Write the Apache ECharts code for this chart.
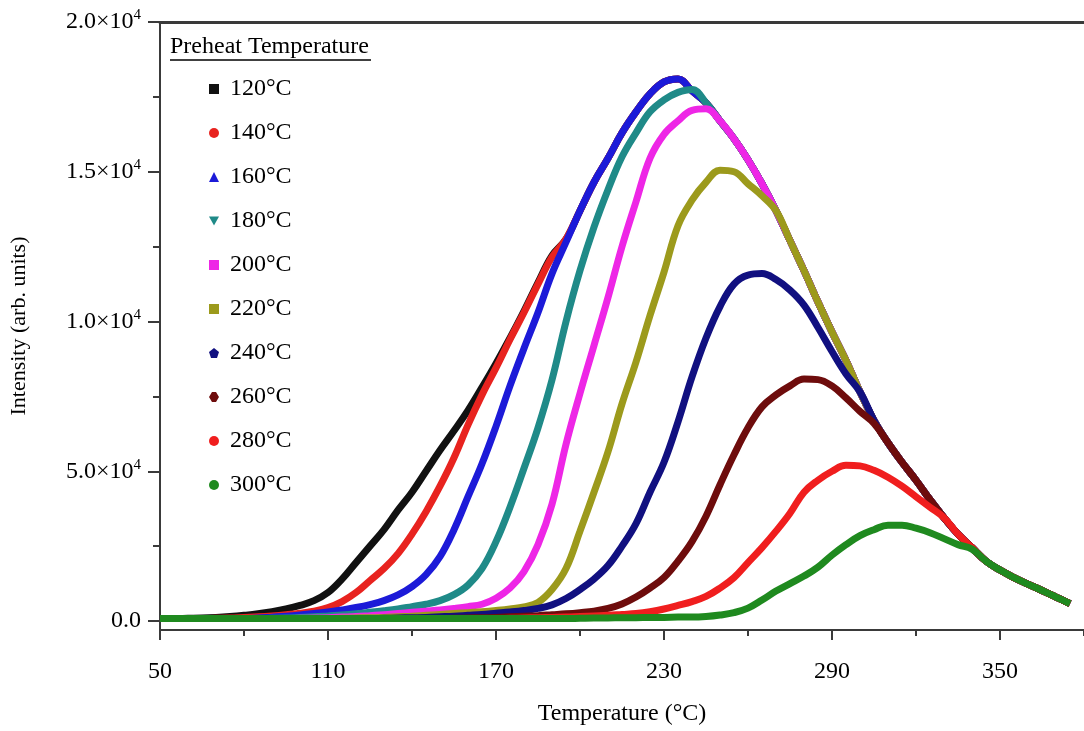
<!DOCTYPE html>
<html>
<head>
<meta charset="utf-8">
<script src="https://cdn.jsdelivr.net/npm/echarts@6/dist/echarts.min.js"></script>
<style>
  html, body { margin: 0; padding: 0; background: #fff; }
  #chart { width: 1084px; height: 731px; }
</style>
</head>
<body>
<div id="chart"></div>
<script>
// temperature grid (°C)
const temps = [50, 55, 60, 65, 70, 75, 80, 85, 90, 95,
  100, 105, 110, 115, 120, 125, 130, 135, 140, 145,
  150, 155, 160, 165, 170, 175, 180, 185, 190, 195,
  200, 205, 210, 215, 220, 225, 230, 235, 240, 245,
  250, 255, 260, 265, 270, 275, 280, 285, 290, 295,
  300, 305, 310, 315, 320, 325, 330, 335, 340, 345,
  350, 355, 360, 365, 370, 375]

// intensities, one value per temperature
const i120 = [80, 80, 90, 100, 120, 150, 190, 240, 310, 400,
  520, 680, 950, 1400, 1950, 2500, 3050, 3700, 4300, 5000,
  5700, 6350, 7030, 7800, 8600, 9450, 10350, 11300, 12200, 12750,
  13700, 14650, 15450, 16300, 17000, 17600, 18000, 18100, 17700, 17300,
  16700, 16100, 15400, 14600, 13700, 12700, 11700, 10650, 9650, 8700,
  7650, 6700, 5950, 5300, 4700, 4050, 3450, 2900, 2450, 2000,
  1700, 1450, 1230, 1020, 800, 580]
const i140 = [80, 80, 80, 80, 90, 100, 120, 140, 170, 210,
  260, 330, 450, 650, 950, 1350, 1750, 2250, 2900, 3650,
  4500, 5450, 6550, 7550, 8450, 9400, 10300, 11250, 12150, 12750,
  13700, 14650, 15450, 16300, 17000, 17600, 18000, 18100, 17700, 17300,
  16700, 16100, 15400, 14600, 13700, 12700, 11700, 10650, 9650, 8700,
  7650, 6700, 5950, 5300, 4700, 4050, 3450, 2900, 2450, 2000,
  1700, 1450, 1230, 1020, 800, 580]
const i160 = [80, 80, 80, 80, 80, 80, 80, 100, 130, 160,
  200, 250, 300, 370, 450, 550, 680, 870, 1150, 1550,
  2150, 3050, 4150, 5250, 6500, 7850, 9100, 10300, 11600, 12650,
  13700, 14650, 15450, 16300, 17000, 17600, 18000, 18100, 17700, 17300,
  16700, 16100, 15400, 14600, 13700, 12700, 11700, 10650, 9650, 8700,
  7650, 6700, 5950, 5300, 4700, 4050, 3450, 2900, 2450, 2000,
  1700, 1450, 1230, 1020, 800, 580]
const i180 = [80, 80, 80, 80, 80, 80, 80, 80, 90, 100,
  120, 140, 170, 200, 240, 290, 340, 400, 480, 560,
  680, 880, 1200, 1750, 2650, 3800, 5100, 6450, 8050, 10000,
  11700, 13150, 14400, 15500, 16300, 17000, 17400, 17650, 17750, 17300,
  16700, 16100, 15400, 14600, 13700, 12700, 11700, 10650, 9650, 8700,
  7650, 6700, 5950, 5300, 4700, 4050, 3450, 2900, 2450, 2000,
  1700, 1450, 1230, 1020, 800, 580]
const i200 = [80, 80, 80, 80, 80, 80, 80, 80, 80, 80,
  90, 100, 110, 130, 150, 180, 210, 250, 290, 330,
  370, 420, 480, 560, 760, 1100, 1650, 2550, 3900, 5900,
  7600, 9200, 10800, 12500, 14000, 15450, 16250, 16700, 17050, 17100,
  16700, 16100, 15400, 14600, 13700, 12700, 11700, 10650, 9650, 8700,
  7650, 6700, 5950, 5300, 4700, 4050, 3450, 2900, 2450, 2000,
  1700, 1450, 1230, 1020, 800, 580]
const i220 = [80, 80, 80, 80, 80, 80, 80, 80, 80, 80,
  80, 80, 80, 90, 100, 110, 120, 140, 160, 190,
  220, 250, 280, 310, 350, 400, 470, 620, 1050, 1750,
  3000, 4300, 5650, 7250, 8650, 10200, 11650, 13200, 14050, 14650,
  15050, 15000, 14600, 14200, 13700, 12700, 11700, 10650, 9650, 8700,
  7650, 6700, 5950, 5300, 4700, 4050, 3450, 2900, 2450, 2000,
  1700, 1450, 1230, 1020, 800, 580]
const i240 = [80, 80, 80, 80, 80, 80, 80, 80, 80, 80,
  80, 80, 80, 80, 80, 80, 90, 100, 110, 120,
  140, 160, 190, 220, 260, 300, 350, 420, 540, 750,
  1050, 1400, 1850, 2500, 3250, 4300, 5300, 6650, 8150, 9450,
  10500, 11250, 11550, 11600, 11400, 11050, 10550, 9800, 9000, 8250,
  7650, 6700, 5950, 5300, 4700, 4050, 3450, 2900, 2450, 2000,
  1700, 1450, 1230, 1020, 800, 580]
const i260 = [80, 80, 80, 80, 80, 80, 80, 80, 80, 80,
  80, 80, 80, 80, 80, 80, 80, 80, 80, 80,
  80, 90, 100, 110, 120, 140, 160, 180, 210, 240,
  280, 330, 420, 570, 800, 1100, 1450, 2000, 2650, 3500,
  4550, 5550, 6450, 7150, 7550, 7850, 8080, 8060, 7850, 7450,
  7000, 6600, 5950, 5300, 4700, 4050, 3450, 2900, 2450, 2000,
  1700, 1450, 1230, 1020, 800, 580]
const i280 = [80, 80, 80, 80, 80, 80, 80, 80, 80, 80,
  80, 80, 80, 80, 80, 80, 80, 80, 80, 80,
  80, 80, 80, 80, 80, 90, 100, 110, 120, 130,
  150, 170, 190, 220, 250, 310, 400, 520, 650, 820,
  1100, 1450, 1950, 2450, 3000, 3600, 4300, 4700, 5000, 5200,
  5180, 5030, 4800, 4500, 4150, 3800, 3450, 2900, 2450, 2000,
  1700, 1450, 1230, 1020, 800, 580]
const i300 = [80, 80, 80, 80, 80, 80, 80, 80, 80, 80,
  80, 80, 80, 80, 80, 80, 80, 80, 80, 80,
  80, 80, 80, 80, 80, 80, 80, 80, 80, 80,
  90, 100, 100, 110, 110, 120, 120, 130, 130, 150,
  200, 280, 430, 700, 1000, 1250, 1500, 1800, 2200, 2550,
  2850, 3050, 3200, 3200, 3100, 2950, 2750, 2550, 2400, 2000,
  1700, 1450, 1230, 1020, 800, 580]

const seriesNames = ['120°C', '140°C', '160°C', '180°C', '200°C', '220°C', '240°C', '260°C', '280°C', '300°C']
const seriesValues = [i120, i140, i160, i180, i200, i220, i240, i260, i280, i300]

// ticks and labels
const xTicks = [50, 110, 170, 230, 290, 350]
const xMinorTicks = [80, 140, 200, 260, 320, 380]
const yTicks = [0, 5000, 10000, 15000, 20000]
const yTickText = ['0.0', '5.0×10{s|4}', '1.0×10{s|4}', '1.5×10{s|4}', '2.0×10{s|4}']
const yMinorTicks = [2500, 7500, 12500, 17500]

const colors = ['#111111', '#e8231f', '#1c1ad8', '#1f8a88', '#ee26e6', '#9c9a1c', '#111080', '#6e0c0c', '#f01e1e', '#1f8a1f']
const icons = [
  'path://M0,0 L10,0 L10,10 L0,10 Z',
  'circle',
  'triangle',
  'path://M0,0 L10,0 L5,9 Z',
  'path://M0,0 L10,0 L10,10 L0,10 Z',
  'path://M0,0 L10,0 L10,10 L0,10 Z',
  'path://M5,0 L10,4 L8,10 L2,10 L0,4 Z',
  'path://M3,0 L7,0 L10,5 L7,10 L3,10 L0,5 Z',
  'circle',
  'circle'
]

const FONT = '"Liberation Serif", "Times New Roman", serif'
const AXIS_COLOR = '#3a3a3a'

const chart = echarts.init(document.getElementById('chart'))

const series = seriesNames.map((name, k) => ({
  name: name,
  type: 'line',
  xAxisIndex: 0,
  yAxisIndex: 0,
  smooth: 0.4,
  showSymbol: false,
  color: colors[k],
  itemStyle: { color: colors[k] },
  lineStyle: { color: colors[k], width: 7 },
  data: temps.map((t, i) => [t, seriesValues[k][i]])
}))

const option = {
  animation: false,
  backgroundColor: '#ffffff',
  textStyle: { fontFamily: FONT },
  grid: { left: 160, top: 22, width: 935, height: 613 },
  legend: {
    orient: 'vertical',
    left: 204,
    top: 72,
    itemWidth: 10,
    itemHeight: 10,
    itemGap: 20,
    selectedMode: false,
    textStyle: { fontSize: 24, lineHeight: 24, color: '#000', fontFamily: FONT, padding: [0, 0, 0, 6] },
    data: seriesNames.map((n, k) => ({ name: n, icon: icons[k] }))
  },
  graphic: [
    {
      type: 'text',
      left: 170,
      top: 35,
      style: { text: 'Preheat Temperature', font: '24px ' + FONT, fill: '#000' }
    },
    {
      type: 'line',
      shape: { x1: 170, y1: 60, x2: 371, y2: 60 },
      style: { stroke: '#000', lineWidth: 1.5 }
    }
  ],
  xAxis: [
    {
      type: 'value',
      min: 50,
      max: 380,
      position: 'bottom',
      axisLine: { show: true, onZero: false, lineStyle: { color: AXIS_COLOR, width: 2 } },
      axisTick: { show: true, customValues: xTicks, length: 10, lineStyle: { color: AXIS_COLOR, width: 2 } },
      axisLabel: { customValues: xTicks, fontSize: 24, color: '#000', margin: 30, fontFamily: FONT },
      splitLine: { show: false },
      name: 'Temperature (°C)',
      nameLocation: 'middle',
      nameGap: 72,
      nameTextStyle: { fontSize: 24, color: '#000', fontFamily: FONT }
    },
    {
      type: 'value',
      min: 50,
      max: 380,
      position: 'bottom',
      axisLine: { show: false, onZero: false },
      axisTick: { show: true, customValues: xMinorTicks, length: 6, lineStyle: { color: AXIS_COLOR, width: 2 } },
      axisLabel: { show: false },
      splitLine: { show: false }
    },
    {
      type: 'value',
      min: 50,
      max: 380,
      position: 'top',
      axisLine: { show: true, onZero: false, lineStyle: { color: AXIS_COLOR, width: 3 } },
      axisTick: { show: false },
      axisLabel: { show: false },
      splitLine: { show: false }
    }
  ],
  yAxis: [
    {
      type: 'value',
      min: -300,
      max: 20000,
      position: 'left',
      axisLine: { show: true, onZero: false, lineStyle: { color: AXIS_COLOR, width: 2 } },
      axisTick: { show: true, customValues: yTicks, length: 12, lineStyle: { color: AXIS_COLOR, width: 2 } },
      axisLabel: {
        customValues: yTicks,
        fontSize: 24,
        color: '#000',
        margin: 19,
        fontFamily: FONT,
        formatter: v => yTickText[yTicks.indexOf(v)],
        rich: {
          s: { fontSize: 15, color: '#000', fontFamily: FONT, padding: [0, 0, 13, 0] }
        }
      },
      splitLine: { show: false },
      name: 'Intensity (arb. units)',
      nameLocation: 'middle',
      nameGap: 130,
      nameTextStyle: { fontSize: 22, color: '#000', fontFamily: FONT }
    },
    {
      type: 'value',
      min: -300,
      max: 20000,
      position: 'left',
      axisLine: { show: false, onZero: false },
      axisTick: { show: true, customValues: yMinorTicks, length: 7, lineStyle: { color: AXIS_COLOR, width: 2 } },
      axisLabel: { show: false },
      splitLine: { show: false }
    }
  ],
  series: series
}

chart.setOption(option)
window.addEventListener('resize', () => { chart.resize() })
</script>
</body>
</html>
